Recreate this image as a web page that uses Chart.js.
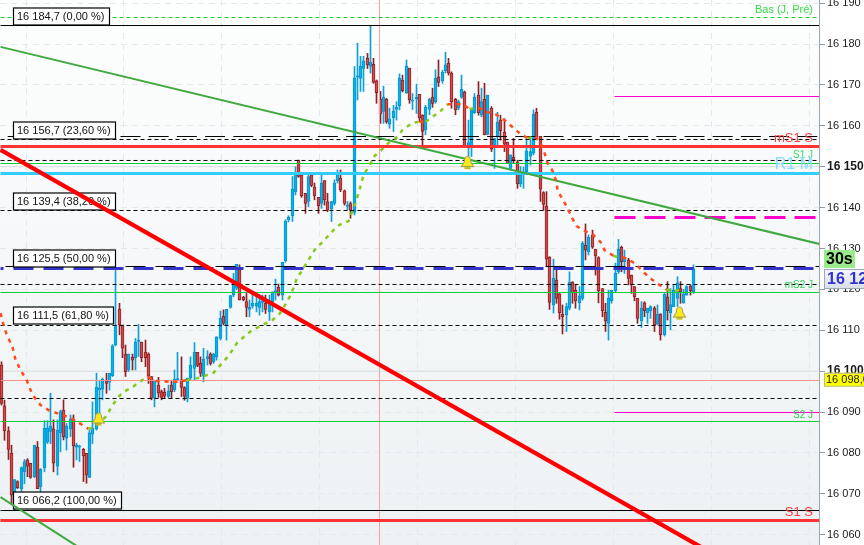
<!DOCTYPE html>
<html><head><meta charset="utf-8">
<style>html,body{margin:0;padding:0;background:#fff}canvas{display:block}</style>
<script src="https://cdn.jsdelivr.net/npm/chart.js@4"></script>
</head><body><canvas id="c" width="864" height="545"></canvas>
<script>
const opens=[16101.5,16091.5,16085.4,16079.9,16068.5,16073.0,16071.3,16075.4,16078.3,16077.5,
16074.2,16081.4,16071.7,16076.4,16082.7,16085.3,16085.9,16076.8,16084.9,16090.5,
16083.6,16085.8,16088.1,16081.4,16081.4,16080.9,16079.9,16074.0,16084.6,16085.9,
16095.4,16095.6,16097.7,16097.4,16098.9,16106.4,16115.1,16111.3,16104.2,16100.3,
16103.4,16103.3,16107.3,16107.1,16104.7,16104.2,16098.7,16093.4,16096.6,16095.0,
16094.8,16093.8,16096.6,16095.4,16097.9,16097.9,16096.0,16093.4,16098.3,16100.7,
16104.6,16101.9,16098.8,16103.0,16104.2,16102.3,16103.5,16108.0,16113.5,16111.3,
16115.6,16118.6,16120.3,16125.4,16118.1,16117.0,16115.1,16115.9,16115.9,16115.6,
16116.8,16116.6,16114.5,16117.0,16119.4,16120.5,16118.6,16127.0,16137.0,16138.0,
16143.9,16151.6,16148.0,16143.5,16141.5,16148.0,16145.0,16142.5,16141.0,16146.6,
16141.5,16139.7,16141.0,16146.6,16147.2,16144.1,16140.3,16141.0,16138.8,16171.9,
16171.6,16174.0,16176.5,16174.5,16175.0,16171.0,16166.5,16163.5,16166.5,16160.4,
16162.0,16164.0,16164.9,16171.2,16168.1,16174.1,16166.0,16166.5,16167.7,16162.6,
16159.0,16164.0,16167.0,16165.9,16172.0,16171.0,16173.5,16175.3,16172.9,16166.5,
16164.3,16167.0,16168.3,16155.0,16155.0,16163.2,16167.5,16162.6,16166.5,16157.9,
16164.3,16154.9,16157.4,16161.4,16158.4,16156.0,16149.6,16152.3,16151.2,16145.8,
16148.0,16148.8,16152.6,16153.3,16163.3,16157.4,16143.7,16140.4,16127.9,16116.2,
16122.3,16118.9,16113.9,16113.8,16115.4,16121.7,16119.8,16116.7,16117.8,16130.8,
16129.2,16133.3,16129.8,16127.8,16120.2,16114.4,16111.7,16117.2,16119.7,16124.3,
16130.3,16126.8,16127.2,16123.5,16120.7,16117.8,16112.3,16116.7,16114.3,16114.8,
16115.4,16111.5,16114.0,16108.9,16118.2,16114.3,16115.8,16117.8,16120.2,16116.7,
16118.6,16120.8,16119.4];
const closes=[16092.1,16085.4,16080.9,16069.7,16073.5,16071.5,16076.4,16077.9,16076.8,16074.0,
16081.9,16071.3,16076.0,16086.0,16086.0,16086.6,16077.5,16085.6,16090.1,16084.0,
16086.6,16088.2,16081.7,16081.9,16081.7,16079.3,16074.6,16084.9,16086.0,16096.1,
16095.8,16098.0,16097.0,16099.5,16106.2,16111.3,16111.3,16105.6,16099.9,16104.2,
16102.7,16107.1,16107.6,16103.3,16103.3,16098.8,16093.4,16097.8,16094.6,16093.6,
16093.9,16095.2,16095.0,16098.0,16098.2,16096.0,16093.8,16098.3,16101.5,16104.6,
16101.4,16099.5,16102.9,16103.6,16101.9,16104.2,16108.4,16112.9,16111.7,16115.1,
16118.5,16121.5,16126.1,16117.4,16117.4,16115.6,16115.6,16116.6,16116.6,16117.0,
16117.2,16115.1,16117.0,16119.4,16119.7,16118.6,16126.6,16136.7,16137.6,16144.5,
16148.4,16147.6,16142.9,16141.0,16147.6,16145.4,16142.9,16140.5,16146.0,16141.9,
16139.4,16141.5,16146.0,16148.0,16144.3,16141.0,16140.6,16139.3,16171.6,16172.2,
16174.6,16175.9,16174.9,16175.5,16170.6,16168.1,16162.9,16167.0,16161.0,16161.7,
16163.6,16164.5,16171.6,16168.6,16174.6,16166.3,16166.3,16167.0,16161.9,16158.6,
16164.5,16166.5,16165.5,16171.6,16170.6,16173.1,16174.9,16172.9,16165.9,16163.9,
16165.9,16168.9,16155.0,16155.9,16163.9,16167.0,16163.2,16165.9,16157.8,16167.5,
16154.3,16156.9,16160.9,16158.8,16155.5,16150.8,16152.9,16151.7,16145.8,16148.0,
16148.4,16153.9,16153.7,16162.8,16156.8,16144.5,16140.8,16127.4,16116.8,16122.7,
16117.8,16114.3,16113.3,16115.8,16121.7,16119.2,16117.2,16118.4,16131.3,16129.6,
16132.7,16130.3,16128.2,16119.7,16114.8,16112.3,16117.8,16119.8,16123.9,16129.8,
16126.8,16127.8,16122.7,16121.1,16118.2,16112.9,16115.4,16114.8,16115.4,16115.8,
16111.3,16113.9,16108.9,16118.8,16114.8,16116.3,16119.8,16121.6,16119.4,16118.9,
16120.7,16119.7,16125.1];
const highs=[16102.3,16092.9,16086.4,16081.9,16073.5,16073.2,16076.6,16078.4,16078.6,16077.5,
16081.9,16082.8,16076.2,16087.9,16087.9,16094.6,16088.1,16088.1,16090.5,16093.0,
16087.2,16089.3,16089.3,16082.4,16081.9,16081.1,16079.9,16085.6,16092.5,16099.5,
16097.8,16098.3,16099.5,16099.5,16106.5,16124.6,16116.6,16111.3,16106.4,16104.2,
16104.2,16108.0,16111.4,16107.1,16107.6,16104.5,16098.7,16097.8,16098.5,16095.4,
16095.8,16096.6,16097.8,16100.3,16104.6,16103.5,16096.2,16098.3,16103.5,16107.0,
16104.6,16103.5,16105.6,16105.0,16104.5,16104.4,16108.4,16114.7,16115.0,16115.1,
16118.5,16123.9,16126.1,16126.0,16118.3,16119.0,16117.4,16119.0,16118.6,16118.6,
16118.6,16118.6,16118.6,16119.4,16122.5,16121.3,16126.6,16137.0,16138.0,16147.6,
16150.0,16151.6,16148.3,16143.5,16148.0,16148.0,16146.0,16142.5,16148.0,16146.6,
16143.5,16141.5,16146.8,16149.2,16149.2,16144.3,16141.5,16141.4,16174.5,16180.2,
16177.0,16177.0,16177.7,16184.4,16176.5,16171.2,16168.4,16169.7,16166.7,16164.3,
16165.0,16165.9,16172.7,16172.4,16176.1,16174.1,16167.9,16170.2,16167.7,16162.7,
16165.0,16166.7,16169.2,16173.7,16176.1,16173.6,16178.0,16176.5,16173.2,16166.7,
16166.3,16172.4,16168.5,16161.4,16164.3,16167.9,16170.8,16169.2,16170.4,16167.5,
16164.7,16156.9,16163.3,16162.6,16161.7,16156.0,16152.9,16156.9,16151.6,16150.0,
16149.9,16156.8,16156.9,16163.9,16164.3,16157.4,16143.9,16143.9,16128.0,16127.4,
16124.8,16119.0,16116.2,16116.6,16124.3,16121.9,16121.1,16120.7,16131.7,16136.0,
16133.3,16134.5,16129.8,16128.0,16120.2,16116.6,16119.8,16119.8,16126.4,16132.2,
16130.6,16129.6,16127.6,16123.5,16120.7,16117.8,16117.0,16117.0,16115.4,16116.0,
16115.8,16116.2,16114.0,16119.0,16121.9,16120.2,16121.1,16123.1,16121.9,16120.0,
16120.9,16121.1,16126.0];
const lows=[16091.7,16083.1,16078.4,16067.7,16066.0,16071.3,16070.1,16072.5,16074.2,16073.8,
16074.0,16071.3,16070.5,16075.4,16082.3,16082.3,16075.4,16074.6,16080.3,16083.2,
16080.7,16084.0,16076.5,16078.3,16077.9,16073.0,16072.6,16074.0,16082.3,16085.6,
16089.7,16093.0,16094.6,16095.4,16098.7,16106.2,16108.9,16103.3,16098.7,16099.9,
16100.3,16100.3,16103.6,16102.3,16101.1,16097.0,16093.0,16091.3,16093.6,16093.0,
16093.3,16093.4,16093.4,16095.0,16097.9,16093.8,16092.9,16092.5,16097.9,16097.9,
16101.1,16098.7,16097.4,16101.5,16101.5,16101.9,16102.7,16107.6,16111.3,16107.6,
16115.4,16118.2,16119.9,16117.4,16117.2,16113.3,16113.3,16115.4,16114.5,16113.7,
16114.5,16114.1,16112.4,16114.5,16117.4,16118.4,16117.4,16126.6,16136.5,16136.6,
16143.1,16147.4,16142.5,16138.6,16140.2,16145.1,16141.9,16138.6,16139.8,16140.6,
16139.0,16136.6,16140.6,16146.0,16143.9,16140.6,16139.5,16137.4,16138.2,16166.3,
16168.4,16168.4,16174.0,16172.9,16170.4,16165.5,16160.6,16160.6,16160.6,16159.4,
16158.6,16161.4,16163.9,16168.3,16167.9,16165.5,16164.0,16163.0,16161.0,16155.3,
16157.8,16162.7,16164.5,16165.5,16169.6,16170.4,16172.9,16172.4,16164.3,16162.7,
16163.9,16166.7,16154.9,16152.5,16152.5,16163.0,16162.6,16162.2,16157.8,16157.8,
16153.7,16149.6,16154.9,16156.5,16153.7,16150.8,16149.2,16150.8,16144.7,16145.1,
16144.7,16148.8,16150.4,16152.9,16156.8,16141.5,16139.4,16125.7,16115.1,16114.2,
16116.6,16112.7,16109.1,16109.7,16115.0,16116.6,16115.4,16115.0,16117.4,16127.2,
16128.4,16130.0,16123.5,16116.7,16113.3,16109.7,16107.6,16116.6,16119.4,16123.9,
16124.3,16123.9,16121.1,16119.0,16117.2,16111.7,16110.7,16113.3,16111.7,16112.9,
16109.7,16111.3,16107.6,16108.6,16112.5,16110.1,16115.8,16115.8,16116.6,16116.6,
16118.6,16118.6,16119.0];

// moving average, read as sparse points: candle index, price, and trend of the stretch that follows
const maTimes=[-0.2,0.7,1.6,3.2,4.4,5.9,7.5,9.6,11.8,14.5,17.6,21,24,26.5,27.7,31.7,33.8,35.4,37.2,40,42.4,44.6,47.6,51,54,56.8,59.9,64.8,68.8,70.9,72.4,74.9,77,80.1,82.9,85.3,86.5,88.1,89.3,90.5,92.4,93.9,96,99.1,101.6,103.4,106.2,108.3,109.5,110.4,111,112.6,114.1,116.3,118.7,121.2,123,125.8,128.2,129.8,132.2,134.4,136.5,138.3,141.1,143.5,146,149,151.8,154.3,156.7,158.9,161.3,163.5,165.6,166.5,167.4,168.7,169.9,170.5,172,173.3,174.5,176.3,178.5,181.2,183.4,184.9,187.4,188.6,190.4,192,194.7,196.9,199.3,201.5,203.9,206.4,207.6,209.4];
const maValues=[16114.2,16111.3,16109.1,16105.9,16102.8,16100.3,16097.9,16094.2,16091.7,16090.5,16089.5,16088.6,16087.3,16085.9,16086.1,16088.8,16091.2,16093.5,16094.9,16096.1,16097.4,16098.6,16097.6,16097.4,16097.4,16097.8,16098.3,16099.6,16103.2,16105.2,16107.1,16108.9,16110.1,16111.3,16112.5,16114,16115.5,16118.1,16120.3,16122.5,16125.2,16127.2,16129.6,16132.1,16134.5,16135.8,16136.7,16141.1,16143.6,16146,16148,16150.2,16152.4,16154.1,16155.8,16157.3,16159,16160.7,16161,16161,16162.2,16163.6,16165.3,16165.3,16165.3,16164.1,16164.4,16163.4,16162.7,16161.2,16159.7,16158,16157,16157.3,16155.3,16153.4,16150.9,16149,16146.3,16144.1,16142.1,16139.9,16137.7,16135.5,16134.3,16133.5,16131.6,16129.6,16128.2,16127.9,16127.9,16127.4,16126,16124,16122.5,16121.1,16119.9,16119.6,16119.9,16119.6];
const maTurnUpAt=[13,25,59,65,72,88,96];      // index in maTimes where the average turns rising
const maTurnDownAt=[21,58,62,64,66,73,90];    // index in maTimes where it turns falling

const timeMin=-0.5, timeMax=250.5, priceMin=16057.5, priceMax=16190.76;
const gridTimes=[7.5,37.5,67.5,97.5,127.5,157.5,187.5,217.5,247.5];
const cursorTime=115.75;
const roundLevels=[16150,16100];
const fullShortDashLevels=[16156.65,16151.52,16139.29,16121.20,16111.17,16093.32];
const longDashLevels=[16157.38];
const fibMidLevel=[16125.6];
const blueLevel=[16125.11];
const topLevel=16186.48;
const blackSolidLevels=[16184.52,16065.93];
const redLevels=[16154.94,16063.49];
const greenLevels=[16150.78,16119.24,16087.70];
const cyanLevel=[16148.34];
const pinkLevel=[16097.72];
const magentaSolidLevels=[16167.16,16089.90];
const magentaDashLevels=[16137.58];
const magentaStart=187.7, magentaDashEnd=249.6;

const fibValues=[16184.7,16156.7,16139.4,16125.5,16111.5,16066.2];
const fibTexts=["16 184,7 (0,00 %)","16 156,7 (23,60 %)","16 139,4 (38,20 %)","16 125,5 (50,00 %)","16 111,5 (61,80 %)","16 066,2 (100,00 %)"];

const trendGreenTimes=[-0.5,250.5], trendGreenValues=[16179.3,16131.1];
const trendRedTimes=[-0.5,214.9], trendRedValues=[16154.1,16056.8];
const trendLowTimes=[-0.5,23.6], trendLowValues=[16069.2,16057.0];

const bellTimes=[29.7,142.7,207.7], bellValues=[16088.3,16151,16114.2];

const sideTexts=["Bas (J, Pré)","mS1 S","S1 J","R1 M","mS2 J","S2 J","S1 S"];
const sideValues=[16186.5,16154.9,16150.8,16148.4,16119.3,16090.0,16063.4];
const countdownText="30s", lastPriceText="16 125,0", alertPriceText="16 098,0", alertPrice=16097.9;

// ---- styling (separate from the data)
const FONT='"Liberation Sans", Arial, sans-serif';
const sideStyle=[
 {font:'11px',color:'#33dd44',dy:-7},
 {font:'13px',color:'#ff4040',dy:-8},
 {font:'10px',color:'#33dd66',dy:-8},
 {font:'16px',color:'#8adcff',dy:-9},
 {font:'10px',color:'#33cc55',dy:-7},
 {font:'10px',color:'#33cc55',dy:3},
 {font:'13px',color:'#ff4040',dy:-8}];

const idx=opens.map((_,i)=>i);
const isUp=i=>closes[i]>=opens[i];
const wickColors=idx.map(i=>isUp(i)?'#109fd6':'#8f1f24');
const bodyFill=idx.map(i=>isUp(i)?'#00b4f0':'#d64a4a');
const bodyEdge=idx.map(i=>isUp(i)?'#0a93c8':'#8f2226');

function hline(v,color,width,dash,offset,from,to){
 return {type:'line',kind:'level',data:[{x:from??timeMin,y:v},{x:to??timeMax,y:v}],borderColor:color,borderWidth:width,
  borderDash:dash||[],borderDashOffset:offset||0,pointRadius:0,order:5};
}
function seg(xs,ys,color,width){
 return {type:'line',kind:'diagonal',data:xs.map((x,i)=>({x,y:ys[i]})),borderColor:color,borderWidth:width,pointRadius:0,order:2};
}
// Bell marker image
function bellCanvas(){
 const c=document.createElement('canvas');c.width=c.height=15;const g=c.getContext('2d');
 g.beginPath();g.moveTo(7.5,1.5);g.bezierCurveTo(10.5,1.5,10.5,4,10.8,7);g.lineTo(13.8,11.5);g.lineTo(1.2,11.5);g.lineTo(4.2,7);g.bezierCurveTo(4.5,4,4.5,1.5,7.5,1.5);g.closePath();
 g.fillStyle='#ffe91a';g.fill();g.strokeStyle='#a09a50';g.lineWidth=1;g.stroke();
 g.fillStyle='#c8b800';g.fillRect(4.5,12.2,6,1.8);
 return c;
}
const datasets=[
 {type:'scatter',kind:'bell',data:bellTimes.map((x,i)=>({x,y:bellValues[i]})),pointStyle:bellCanvas(),pointRadius:7,order:-1,showLine:false},
 {type:'line',kind:'ma',data:maTimes.map((x,i)=>({x,y:maValues[i]})),borderWidth:2.5,borderDash:[4,5],pointRadius:0,tension:0,order:0,borderColor:'#ff4a1c',
  segment:{borderColor:c=>{
    let up=false;for(let k=0;k<=c.p0DataIndex;k++){if(maTurnUpAt.includes(k))up=true;if(maTurnDownAt.includes(k))up=false;}
    return up?'#86c91a':'#ff4a1c';}}},
 seg(trendGreenTimes,trendGreenValues,'#3fa83f',2),
 seg(trendRedTimes,trendRedValues,'#ff0000',4.2),
 seg(trendLowTimes,trendLowValues,'#3fa83f',2),
 hline(topLevel,'#22cc33',1,[4,3]),
 ...blackSolidLevels.map(v=>hline(v,'#000',1)),
 ...cyanLevel.map(v=>hline(v,'#33ccff',3)),
 ...redLevels.map(v=>hline(v,'#ff3333',3)),
 ...fibMidLevel.map(v=>hline(v,'#000',1,[20,10],25)),
 ...blueLevel.map(v=>hline(v,'#3434cc',3,[20,10],17)),
 ...longDashLevels.map(v=>hline(v,'#000',1,[20,8.2],21)),
 ...fullShortDashLevels.map(v=>hline(v,'#000',1,[4,3])),
 ...greenLevels.map(v=>hline(v,'#10cc33',1)),
 ...pinkLevel.map(v=>hline(v,'#ff9090',1)),
 ...magentaSolidLevels.map(v=>hline(v,'#ff00cc',1,[],0,magentaStart)),
 ...magentaDashLevels.map(v=>hline(v,'#ff00cc',3,[21,9],0,magentaStart,magentaDashEnd)),
 {type:'line',kind:'cursor',data:[{x:cursorTime,y:priceMin},{x:cursorTime,y:priceMax}],borderColor:'#f4a3a3',borderWidth:1,pointRadius:0,order:6},
 {type:'bar',kind:'body',data:idx.map(i=>({x:i,y:[opens[i],closes[i]]})),backgroundColor:bodyFill,borderColor:bodyEdge,borderWidth:1,borderSkipped:false,barThickness:3,grouped:false,order:10},
 {type:'bar',kind:'wick',data:idx.map(i=>({x:i,y:[lows[i],highs[i]]})),backgroundColor:wickColors,borderWidth:0,barThickness:1,grouped:false,order:11},
 ...roundLevels.map(v=>{const d=hline(v,'#d8dde0',1);d.order=12;return d;})
];

function roundRectTag(g,x,y,w,h,fill,stroke){
 g.fillStyle=fill;g.fillRect(x,y,w,h);
 if(stroke){g.strokeStyle=stroke;g.lineWidth=1;g.strokeRect(x+.5,y+.5,w-1,h-1);}
}
let boxesDrawn=false;
function drawFibBoxes(chart){
 const g=chart.ctx,ys=chart.scales.y;
 g.save();
 g.font='11px '+FONT;g.textBaseline='middle';g.textAlign='left';
 fibTexts.forEach((t,i)=>{
  const y=Math.round(ys.getPixelForValue(fibValues[i]));
  const w=Math.ceil(g.measureText(t).width)+8;
  g.fillStyle='#fff';g.fillRect(13.5,y-17,w,17);
  g.strokeStyle='#000';g.lineWidth=1.2;g.strokeRect(13.5,y-17,w,17);
  g.fillStyle='#111';g.fillText(t,17,y-8);
 });
 g.restore();
}
const overlay={id:'overlay',
 beforeDraw(chart){
  boxesDrawn=false;
  const g=chart.ctx,a=chart.chartArea;
  g.save();g.fillStyle='#fff';g.fillRect(0,0,chart.width,chart.height);
  const lg=g.createLinearGradient(0,a.top,0,a.bottom);lg.addColorStop(0,'#fdfefe');lg.addColorStop(1,'#edf1f3');
  g.fillStyle=lg;g.fillRect(a.left,a.top,a.right-a.left,a.bottom-a.top);g.restore();
 },
 beforeDatasetDraw(chart,args){
  const ds=chart.data.datasets[args.index];
  if(ds.kind==='diagonal'&&!boxesDrawn){boxesDrawn=true;drawFibBoxes(chart);}
 },
 afterDatasetsDraw(chart){
  const g=chart.ctx,ys=chart.scales.y,a=chart.chartArea;
  g.save();g.textAlign='right';g.textBaseline='middle';
  sideTexts.forEach((t,i)=>{
   const s=sideStyle[i];g.font=s.font+' '+FONT;g.fillStyle=s.color;
   g.fillText(t,a.right-6,ys.getPixelForValue(sideValues[i])+s.dy);
  });
  g.restore();
 },
 afterDraw(chart){
  const g=chart.ctx,ys=chart.scales.y;
  g.save();g.textBaseline='middle';g.textAlign='left';
  // countdown
  roundRectTag(g,824,250,31,18,'#9bea8c');
  g.font='bold 16px '+FONT;g.fillStyle='#000';g.fillText(countdownText,826,259.5);
  // last price
  const lg=g.createLinearGradient(0,269,0,289);lg.addColorStop(0,'#f4f6fa');lg.addColorStop(1,'#d9dfe8');
  roundRectTag(g,824,269,44,20,lg,'#a0a8b0');
  g.font='bold 16px '+FONT;g.fillStyle='#3333cc';g.fillText(lastPriceText,827,279.5);
  // alert price
  const y=ys.getPixelForValue(alertPrice);
  roundRectTag(g,824,y-7,44,14,'#ffff00','#b8b8a0');
  g.font='11px '+FONT;g.fillStyle='#222';g.fillText(alertPriceText,826,y+.5);
  g.restore();
 }
};

new Chart(document.getElementById('c'),{
 type:'bar',
 data:{datasets},
 plugins:[overlay],
 options:{
  responsive:false,animation:false,
  layout:{padding:0,autoPadding:false},
  plugins:{legend:{display:false},tooltip:{enabled:false}},
  scales:{
   x:{type:'linear',offset:false,min:timeMin,max:timeMax,
    // candles sit on whole pixels so wicks stay crisp
    afterUpdate:s=>{if(!s._snap){s._snap=true;const f=s.getPixelForValue.bind(s);s.getPixelForValue=(v,i)=>Math.floor(f(v,i))+0.5;}},
    afterBuildTicks:s=>{s.ticks=gridTimes.map(value=>({value}));},
    afterFit:s=>{s.height=0;s.paddingLeft=0;s.paddingRight=0;s.paddingTop=0;s.paddingBottom=0;},
    grid:{offset:false,color:'#e6e9eb',drawTicks:false},border:{display:false,dash:[6,5]},
    ticks:{display:false}},
   y:{type:'linear',position:'right',min:priceMin,max:priceMax,
    // the plot runs edge to edge: tick labels may overhang the top and bottom
    afterDataLimits:s=>{s._handleMargins=()=>{};},
    afterFit:s=>{s.width=45;s.paddingTop=0;s.paddingBottom=0;s.paddingLeft=0;s.paddingRight=0;},
    grid:{color:'#e6e9eb',tickColor:'#8f9aa3',tickLength:6,tickBorderDash:[]},
    border:{color:'#9aa5ad',width:1,dash:[6,5]},
    ticks:{stepSize:10,includeBounds:false,autoSkip:false,padding:2,maxRotation:0,color:'#1a1a1a',
     font:c=>{const b=c.tick&&c.tick.value%50===0;return {family:FONT,size:b?12:11,weight:b?'bold':'normal'};},
     callback:v=>String(v).replace(/(\d{2})(\d{3})/,'$1 $2')}}
  }
 }
});
</script></body></html>
